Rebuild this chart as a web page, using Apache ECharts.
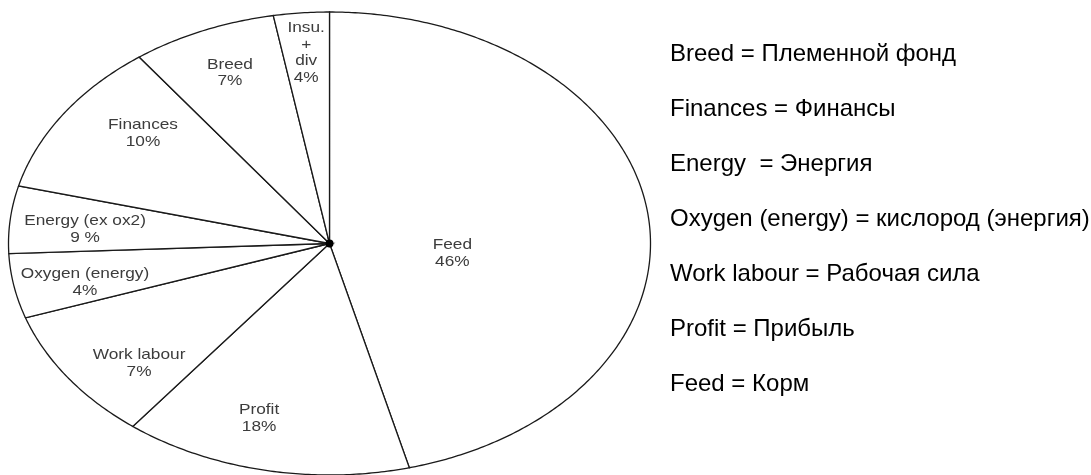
<!DOCTYPE html>
<html><head><meta charset="utf-8">
<script src="https://cdn.jsdelivr.net/npm/echarts@6/dist/echarts.min.js"></script>
<style>html,body{margin:0;padding:0;background:#fff}#c{width:1091px;height:475px}</style>
</head><body><div id="c"></div>
<script>
// Slices, clockwise from 12 o'clock
const categories = ['Feed', 'Profit', 'Work labour', 'Oxygen (energy)', 'Energy (ex ox2)', 'Finances', 'Breed', 'Insu.\n+\ndiv'];
// Drawn share of each slice
const sliceShares = [46.0, 14.5, 9.3, 4.5, 4.7, 10.9, 7.3, 2.8];
// Printed percentage labels (as written on the chart)
const labelPercents = ['46%', '18%', '7%', '4%', '9 %', '10%', '7%', '4%'];
// Right-hand glossary
const legendLines = [
  'Breed = Племенной фонд',
  'Finances = Финансы',
  'Energy  = Энергия',
  'Oxygen (energy) = кислород (энергия)',
  'Work labour = Рабочая сила',
  'Profit = Прибыль',
  'Feed = Корм'
];

// label placement: angle offset from slice bisector (deg) and radius fraction
const labelLayout = [
  {da: 13.6, r: 0.385}, {da: 4.5, r: 0.786}, {da: -5.7, r: 0.788}, {da: -1.8, r: 0.78},
  {da: -1.4, r: 0.764}, {da: 5.3, r: 0.751}, {da: 0.4, r: 0.80}, {da: 0, r: 0.827}
];

const total = sliceShares.reduce((a, b) => a + b, 0);
let acc = 0;
const seriesData = sliceShares.map((v, i) => {
  const s = acc; acc += v;
  return [s, acc, i];
});

const chart = echarts.init(document.getElementById('c'), null, {renderer: 'canvas'});

function renderItem(params, api) {
  const s = api.value(0) / total * Math.PI * 2;
  const e = api.value(1) / total * Math.PI * 2;
  const i = api.value(2);
  const pts = [api.coord([0, 0])];
  const steps = Math.max(4, Math.ceil((e - s) / 0.01));
  for (let k = 0; k <= steps; k++) {
    const a = s + (e - s) * k / steps;
    pts.push(api.coord([Math.sin(a), Math.cos(a)]));
  }
  const L = labelLayout[i];
  const la = (s + e) / 2 + L.da * Math.PI / 180;
  const lp = api.coord([Math.sin(la) * L.r, Math.cos(la) * L.r]);
  const children = [
    {type: 'polygon', shape: {points: pts}, style: {fill: '#fff', stroke: '#1a1a1a', lineWidth: 1.3}},
    {type: 'text', x: lp[0], y: lp[1], scaleX: 1.15, z2: 10,
      style: {text: categories[i] + '\n' + labelPercents[i], fill: '#3c3c3c',
        fontFamily: 'Liberation Sans, Arial, sans-serif', fontSize: 15, lineHeight: 16.7,
        align: 'center', verticalAlign: 'middle'}}
  ];
  if (params.dataIndex === seriesData.length - 1) {
    const c = api.coord([0, 0]);
    children.push({type: 'circle', shape: {cx: c[0], cy: c[1], r: 4}, style: {fill: '#000'}, z2: 20});
  }
  return {type: 'group', children: children};
}

const graphics = legendLines.map((t, k) => ({
  type: 'text', left: 670, top: 42 + 55 * k,
  style: {text: t, fill: '#000', fontFamily: 'Liberation Sans, Arial, sans-serif', fontSize: 24}
}));

chart.setOption({
  animation: false,
  backgroundColor: '#fff',
  grid: {left: 8.5, top: 12, width: 642, height: 466},
  xAxis: {type: 'value', min: -1, max: 1, show: false},
  yAxis: {type: 'value', min: -1, max: 1, show: false},
  graphic: graphics,
  series: [{
    type: 'custom',
    renderItem: renderItem,
    data: seriesData,
    clip: false,
    encode: {x: 0, y: 1}
  }]
});
</script></body></html>
